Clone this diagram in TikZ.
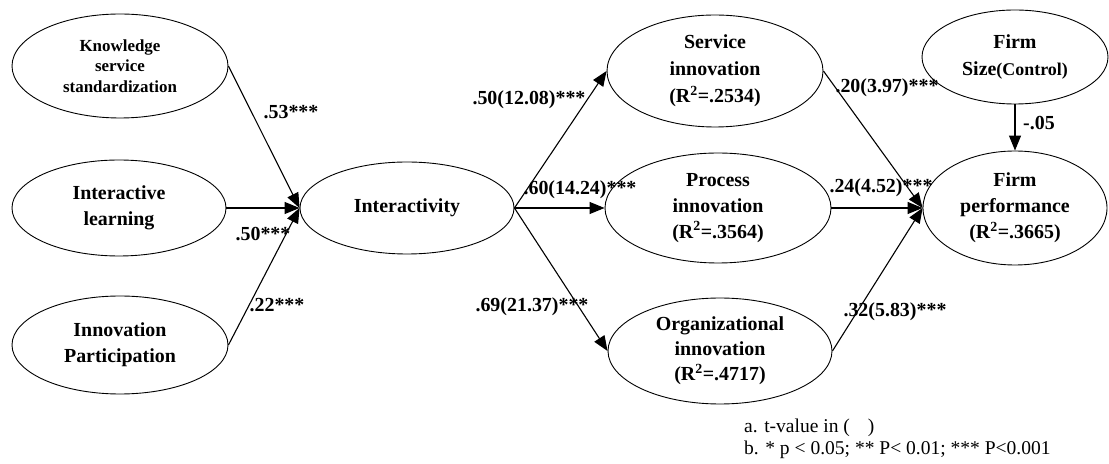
\documentclass[tikz,border=0pt]{standalone}
\usepackage{fontspec}
\setmainfont{Liberation Serif}
\usetikzlibrary{shapes.geometric,arrows.meta}
\tikzset{
  construct/.style={ellipse, draw, line width=0.9bp, inner sep=0pt, align=center,
    font=\bfseries\fontsize{20}{26}\selectfont},
  link/.style={line width=1.1bp, -{Triangle[length=15bp,width=12bp]}},
  coef/.style={font=\bfseries\fontsize{20}{24}\selectfont, inner sep=0pt},
  note/.style={font=\fontsize{19.6}{22}\selectfont, anchor=west, inner sep=0pt}
}
\begin{document}
\begin{tikzpicture}[x=1bp,y=-1bp]
\useasboundingbox (0,0) rectangle (1109,464);

% antecedents
\node[construct, minimum width=216bp, minimum height=104bp,
      font=\bfseries\fontsize{17}{20.5}\selectfont] (ks) at (120,66)
  {Knowledge\\service\\standardization};
\node[construct, minimum width=214bp, minimum height=96bp] (il) at (119,208)
  {Interactive\\learning};
\node[construct, minimum width=216bp, minimum height=98bp] (ip) at (120,345)
  {Innovation\\Participation};

% mediator
\node[construct, minimum width=214bp, minimum height=92bp] (ia) at (407,208)
  {Interactivity};

% innovation outcomes
\node[construct, minimum width=216bp, minimum height=112bp, font=\bfseries\fontsize{20}{27}\selectfont] (si) at (715,71)
  {Service\\innovation\\(R\textsuperscript{2}=.2534)};
\node[construct, minimum width=226bp, minimum height=110bp] (pi) at (718,208)
  {Process\\innovation\\(R\textsuperscript{2}=.3564)};
\node[construct, minimum width=224bp, minimum height=106bp, font=\bfseries\fontsize{20}{25}\selectfont] (oi) at (720,351)
  {Organizational\\innovation\\(R\textsuperscript{2}=.4717)};

% control and performance
\node[construct, minimum width=186bp, minimum height=94bp, font=\bfseries\fontsize{20}{27}\selectfont] (fs) at (1015,57)
  {Firm\\Size{\fontsize{18}{27}\selectfont(Control)}};
\node[construct, minimum width=184bp, minimum height=114bp] (fp) at (1015,208)
  {Firm\\performance\\(R\textsuperscript{2}=.3665)};

% paths
\draw[link] (ks.east) -- (ia.west);
\draw[link] (il.east) -- (ia.west);
\draw[link] (ip.east) -- (ia.west);
\draw[link] (ia.east) -- (si.west);
\draw[link] (ia.east) -- (pi.west);
\draw[link] (ia.east) -- (oi.west);
\draw[link] (si.east) -- (fp.west);
\draw[link] (pi.east) -- (fp.west);
\draw[link] (oi.east) -- (fp.west);
\draw[link] (fs.south) -- (fp.north);

% path coefficients
\node[coef] (c1) at (291,112) {.53***};
\node[coef] (c2) at (263,234) {.50***};
\node[coef] (c3) at (277,305) {.22***};
\node[coef] (c4) at (529,100) {.50(12.08)***};
\node[coef] (c5) at (580,190) {.60(14.24)***};
\node[coef] (c6) at (532,307) {.69(21.37)***};
\node[coef] (c7) at (887,88) {.20(3.97)***};
\node[coef] (c8) at (881,188) {.24(4.52)***};
\node[coef] (c9) at (895,312) {.32(5.83)***};
\node[coef] (c10) at (1039,123) {-.05};

% notes
\node[note] (na) at (744,428) {a. t-value in (\hspace{18bp})};
\node[note] (nb) at (744,450) {b. * p < 0.05; ** P< 0.01; *** P<0.001};
\end{tikzpicture}
\end{document}
